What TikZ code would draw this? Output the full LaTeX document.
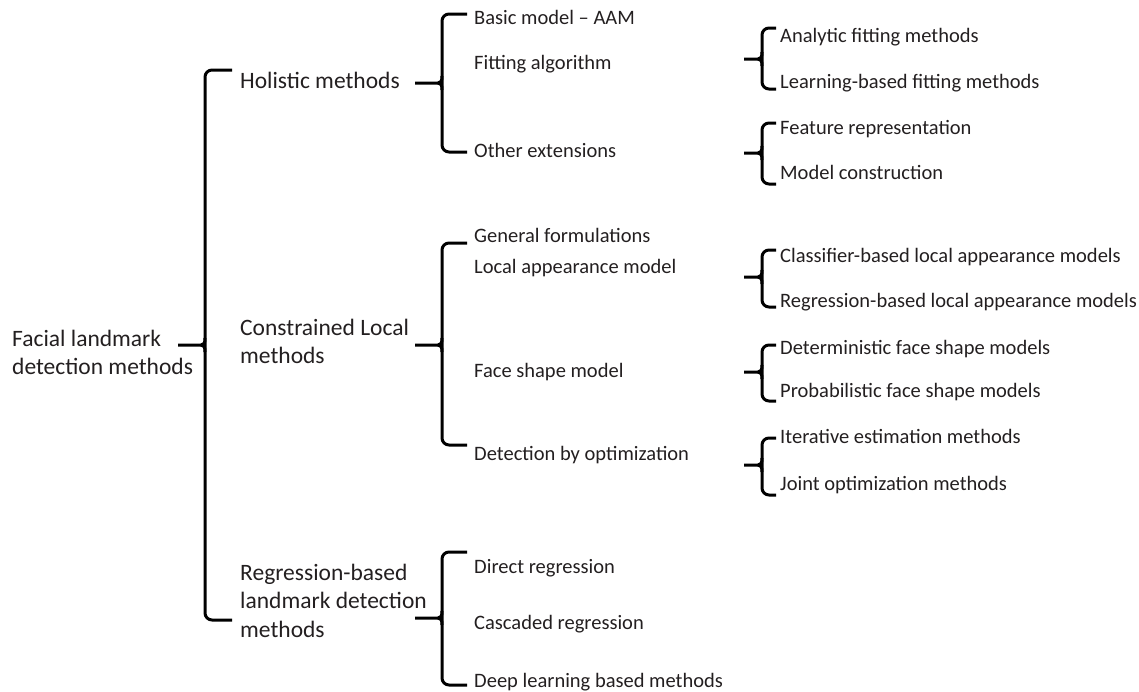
\documentclass[tikz,border=0pt]{standalone}
\usepackage{fontspec}
\setmainfont{Carlito}
\definecolor{txt}{RGB}{35,31,32}
\newcommand\mybrc[6]{% X, top, mid, bottom, tick length, hook length
  \draw[brc,rounded corners=7pt] (#1+#6,#2) -- (#1,#2) -- (#1,#4) -- (#1+#6,#4);
  \draw[brc] (#1-#5,#3) -- (#1-4,#3) .. controls (#1-1,#3) and (#1,#3-2) .. (#1,#3-7);
  \draw[brc] (#1-4,#3) .. controls (#1-1,#3) and (#1,#3+2) .. (#1,#3+7);
}
\begin{document}
\begin{tikzpicture}[x=1pt,y=-1pt,
  brc/.style={line width=3pt,black},
  big/.style={anchor=base west,inner sep=0pt,text=txt,font=\fontsize{23.5}{28}\selectfont},
  sml/.style={anchor=base west,inner sep=0pt,text=txt,font=\fontsize{20.5}{24}\selectfont}]
\useasboundingbox (0,0) rectangle (1139,691);
% root
\node[big] (r1) at (12,346) {Facial landmark};
\node[big] (r2) at (12,374) {detection methods};
% level 1
\node[big] (h) at (240,88) {Holistic methods};
\node[big] (c1) at (240,335) {Constrained Local};
\node[big] (c2) at (240,363) {methods};
\node[big] (g1) at (240,580) {Regression-based};
\node[big] (g2) at (240,608) {landmark detection};
\node[big] (g3) at (240,637) {methods};
% level 1 children
\node[sml] (h1) at (474,24) {Basic model – AAM};
\node[sml] (h2) at (474,69) {Fitting algorithm};
\node[sml] (h3) at (474,157) {Other extensions};
\node[sml] (c1a) at (474,242) {General formulations};
\node[sml] (c1b) at (474,273) {Local appearance model};
\node[sml] (c1c) at (474,377) {Face shape model};
\node[sml] (c1d) at (474,460) {Detection by optimization};
\node[sml] (g1a) at (474,573) {Direct regression};
\node[sml] (g1b) at (474,629) {Cascaded regression};
\node[sml] (g1c) at (474,687) {Deep learning based methods};
% level 2
\node[sml] (f1) at (780,42) {Analytic fitting methods};
\node[sml] (f2) at (780,88) {Learning-based fitting methods};
\node[sml] (o1) at (780,134) {Feature representation};
\node[sml] (o2) at (780,179) {Model construction};
\node[sml] (l1) at (780,262) {Classifier-based local appearance models};
\node[sml] (l2) at (780,307) {Regression-based local appearance models};
\node[sml] (s1) at (780,354) {Deterministic face shape models};
\node[sml] (s2) at (780,397) {Probabilistic face shape models};
\node[sml] (d1) at (780,443) {Iterative estimation methods};
\node[sml] (d2) at (780,490) {Joint optimization methods};
% braces
\mybrc{205}{70}{345}{620}{27}{27}
\mybrc{442}{14}{83}{152}{27}{25}
\mybrc{442}{243}{345}{445}{27}{25}
\mybrc{442}{552}{618}{685}{27}{25}
\mybrc{762}{28}{59}{89}{18}{14}
\mybrc{762}{123}{153}{184}{18}{14}
\mybrc{762}{250}{277}{307}{18}{14}
\mybrc{762}{345}{372}{401}{18}{14}
\mybrc{762}{438}{465}{495}{18}{14}
\end{tikzpicture}
\end{document}
